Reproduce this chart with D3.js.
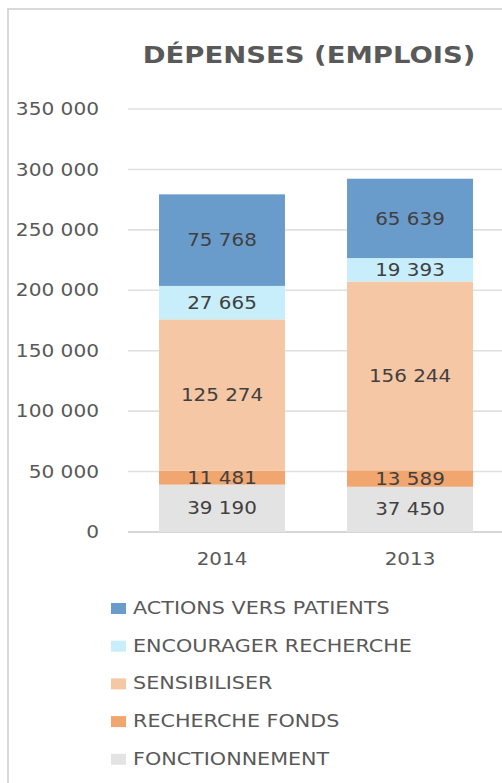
<!DOCTYPE html>
<html>
<head>
<meta charset="utf-8">
<script src="https://cdn.jsdelivr.net/npm/d3@7"></script>
<style>
  html, body { margin: 0; padding: 0; background: #fff; }
  svg { display: block; }
</style>
</head>
<body>
<svg id="chart"></svg>
<script>
// chart data
const categories = ['2014', '2013']
const seriesNames = ['FONCTIONNEMENT', 'RECHERCHE FONDS', 'SENSIBILISER', 'ENCOURAGER RECHERCHE', 'ACTIONS VERS PATIENTS']
const fonctionnement = [39190, 37450]
const rechercheFonds = [11481, 13589]
const sensibiliser = [125274, 156244]
const encouragerRecherche = [27665, 19393]
const actionsPatients = [75768, 65639]
const yTicks = [0, 50000, 100000, 150000, 200000, 250000, 300000, 350000]
const colors = ['#e3e3e3', '#f1a56f', '#f5c7a5', '#c8eefc', '#6a9ccb']

const width = 502
const height = 783
const sx = 1.17 // text in the picture is stretched sideways

const svg = d3.select('#chart').attr('width', width).attr('height', height)

const fr = d3.formatLocale({ decimal: ',', thousands: ' ', grouping: [3], currency: ['', ' €'] })
const fmt = fr.format(',d')

const rows = categories.map((c, i) => ({
  cat: c,
  [seriesNames[0]]: fonctionnement[i],
  [seriesNames[1]]: rechercheFonds[i],
  [seriesNames[2]]: sensibiliser[i],
  [seriesNames[3]]: encouragerRecherche[i],
  [seriesNames[4]]: actionsPatients[i]
}))
const stacked = d3.stack().keys(seriesNames)(rows)

const x = d3.scaleBand().domain(categories).range([128, 504]).paddingInner(0.33).paddingOuter(0.165)
const y = d3.scaleLinear().domain([0, 350000]).range([532, 109])

// frame
svg.append('line').attr('x1', 8).attr('x2', width).attr('y1', 9).attr('y2', 9)
  .attr('stroke', '#d9d9d9').attr('stroke-width', 2)
svg.append('line').attr('x1', 8).attr('x2', 8).attr('y1', 8).attr('y2', height)
  .attr('stroke', '#d9d9d9').attr('stroke-width', 2)

function stretchText(sel, px, py) {
  return sel.attr('transform', d => `translate(${px(d)},${py(d)}) scale(${sx},1)`)
}

// title
stretchText(svg.append('text').datum(0), () => 309, () => 63)
  .attr('text-anchor', 'middle')
  .attr('font-family', 'DejaVu Sans')
  .attr('font-weight', 'bold')
  .attr('font-size', 23.5)
  .attr('fill', '#595959')
  .text('DÉPENSES (EMPLOIS)')

// gridlines
svg.append('g').selectAll('line').data(yTicks).join('line')
  .attr('x1', 128).attr('x2', width)
  .attr('y1', d => y(d)).attr('y2', d => y(d))
  .attr('stroke', d => d === 0 ? '#c8c8c8' : '#e0e0e0')
  .attr('stroke-width', 1.6)

// y tick labels
stretchText(svg.append('g').selectAll('text').data(yTicks).join('text'), () => 99, d => y(d))
  .attr('text-anchor', 'end')
  .attr('dy', '0.36em')
  .attr('font-family', 'DejaVu Sans')
  .attr('font-size', 17.2)
  .attr('fill', '#595959')
  .text(d => fmt(d))

// bars
const layers = svg.append('g').selectAll('g').data(stacked).join('g')
  .attr('fill', (d, i) => colors[i])

layers.selectAll('rect').data(d => d.map(p => ({ p, key: d.key }))).join('rect')
  .attr('x', d => x(d.p.data.cat))
  .attr('width', x.bandwidth())
  .attr('y', d => y(d.p[1]))
  .attr('height', d => y(d.p[0]) - y(d.p[1]))

// data labels
const labels = svg.append('g')
stacked.forEach(layer => {
  stretchText(labels.append('g').selectAll('text').data(layer).join('text'),
    d => x(d.data.cat) + x.bandwidth() / 2,
    d => (y(d[0]) + y(d[1])) / 2)
    .attr('text-anchor', 'middle')
    .attr('dy', '0.36em')
    .attr('font-family', 'DejaVu Sans')
    .attr('font-size', 17)
    .attr('fill', '#404040')
    .text(d => fmt(d[1] - d[0]))
})

// category labels
stretchText(svg.append('g').selectAll('text').data(categories).join('text'),
  d => x(d) + x.bandwidth() / 2, () => 565)
  .attr('text-anchor', 'middle')
  .attr('font-family', 'DejaVu Sans')
  .attr('font-size', 17)
  .attr('fill', '#595959')
  .text(d => d)

// legend (top series first)
const legendItems = seriesNames.map((name, i) => ({ name, color: colors[i] })).reverse()
const legend = svg.append('g').selectAll('g').data(legendItems).join('g')
  .attr('transform', (d, i) => `translate(0,${614 + i * 37.7})`)

legend.append('rect')
  .attr('x', 111).attr('y', -11)
  .attr('width', 15).attr('height', 11)
  .attr('fill', d => d.color)

stretchText(legend.append('text'), () => 133, () => 0)
  .attr('font-family', 'DejaVu Sans')
  .attr('font-size', 17.7)
  .attr('fill', '#595959')
  .text(d => d.name)
</script>
</body>
</html>
